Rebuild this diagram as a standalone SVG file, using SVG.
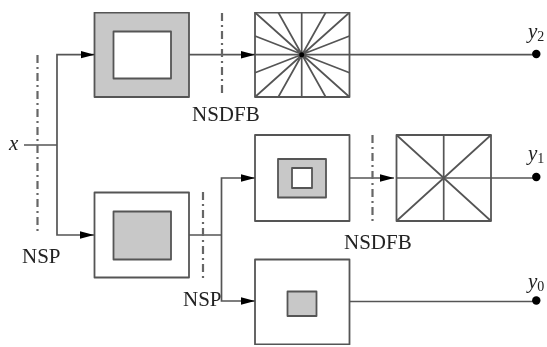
<svg xmlns="http://www.w3.org/2000/svg" width="547" height="347" viewBox="0 0 547 347">
<style>
.b{fill:#fff;stroke:#555;stroke-width:1.8;stroke-linejoin:round}
.g{fill:#c8c8c8;stroke:#555;stroke-width:1.8;stroke-linejoin:round}
.l{fill:none;stroke:#555;stroke-width:1.7}
.d{fill:none;stroke:#666;stroke-width:2.200;stroke-dasharray:8 4 2 4}
.t{font-family:"Liberation Serif",serif;font-size:21px;fill:#222}
.i{font-style:italic}
.s{font-size:14px}
</style>
<defs>
<filter id="soft" x="0" y="0" width="100%" height="100%"><feGaussianBlur stdDeviation="0.35"/></filter>
<marker id="a" markerUnits="userSpaceOnUse" markerWidth="15" markerHeight="10" refX="14" refY="5" orient="auto"><path d="M0 1.200 L14 5 L0 8.800Z" fill="#000"/></marker>
</defs>
<rect width="547" height="347" fill="#fff"/>
<g filter="url(#soft)">
<g id="n-lowpass-top"><rect class="g" x="94.500" y="12.500" width="94.500" height="84.500"/><rect class="b" x="113.500" y="31.500" width="57.500" height="47"/></g>
<g id="n-fan-8"><rect class="b" x="255" y="12.500" width="94.500" height="84.500"/>
<path class="l" d="M255 12.500L349.500 97M349.500 12.500L255 97M278.300 12.500L325.700 97M325.700 12.500L278.300 97M301.700 12.500V97M255 36L349.500 72.700M349.500 36L255 72.700"/></g>
<g id="n-lowpass-left"><rect class="b" x="94.500" y="192.500" width="94.500" height="85"/><rect class="g" x="113.500" y="211.500" width="57.500" height="48"/></g>
<g id="n-band"><rect class="b" x="255" y="135" width="94.500" height="86"/><rect class="g" x="278" y="159" width="48" height="38.500"/><rect class="b" x="292" y="168" width="20" height="20"/></g>
<g id="n-fan-4"><rect class="b" x="396.500" y="135" width="94.500" height="86"/>
<path class="l" d="M396.500 135L491 221M491 135L396.500 221M443.700 135V221"/></g>
<g id="n-low"><rect class="b" x="255" y="259.500" width="94.500" height="85"/><rect class="g" x="287.500" y="291.500" width="29" height="24.500"/></g>
<g id="connectors">
<path class="l" d="M24 145H57"/>
<path class="l" marker-end="url(#a)" d="M57 145V54.700H94.500"/>
<path class="l" marker-end="url(#a)" d="M57 145V235H94"/>
<path class="l" marker-end="url(#a)" d="M189 54.700H255"/>
<path class="l" d="M255 54.700H536"/>
<path class="l" d="M189 235H221.500"/>
<path class="l" marker-end="url(#a)" d="M221.500 235V178H255"/>
<path class="l" marker-end="url(#a)" d="M221.500 235V301H255"/>
<path class="l" marker-end="url(#a)" d="M349.500 178H394"/>
<path class="l" d="M396.500 178H536"/>
<path class="l" d="M349.500 301.500H536"/>
<path class="d" d="M37.500 55V235"/>
<path class="d" d="M222 13V97"/>
<path class="d" d="M203 192V278"/>
<path class="d" d="M372.500 135V221"/>
<circle cx="301.700" cy="54.700" r="2.500" fill="#000"/>
<circle cx="536.300" cy="54" r="4.200" fill="#000"/>
<circle cx="536.300" cy="177" r="4.200" fill="#000"/>
<circle cx="536.300" cy="300.500" r="4.200" fill="#000"/>
</g>
<g id="labels">
<text class="t i" x="9" y="150">x</text>
<text class="t" x="192" y="121">NSDFB</text>
<text class="t" x="344" y="249">NSDFB</text>
<text class="t" x="22" y="263">NSP</text>
<text class="t" x="183" y="306">NSP</text>
<text class="t i" x="528" y="38">y<tspan class="s" font-style="normal" dy="3">2</tspan></text>
<text class="t i" x="528" y="160">y<tspan class="s" font-style="normal" dy="3">1</tspan></text>
<text class="t i" x="528" y="288">y<tspan class="s" font-style="normal" dy="3">0</tspan></text>
</g>
</g>
</svg>
